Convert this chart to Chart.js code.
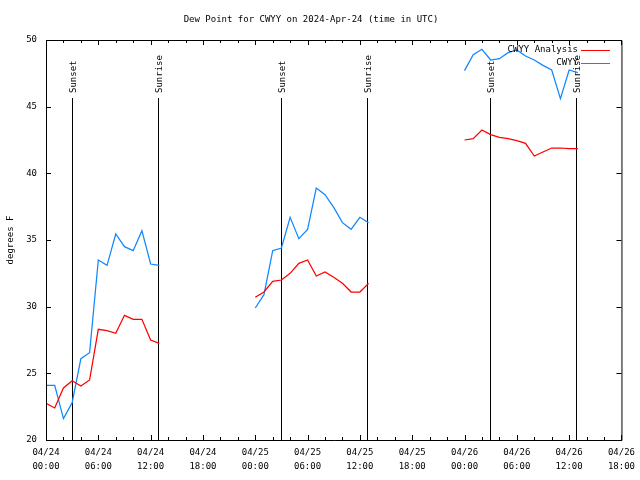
<!DOCTYPE html>
<html>
<head>
<meta charset="utf-8">
<script src="https://cdn.jsdelivr.net/npm/chart.js@4"></script>
<style>
  html, body { margin: 0; padding: 0; background: #fff; }
  #wrap { width: 640px; height: 480px; }
</style>
</head>
<body>
<div id="wrap"><canvas id="dewChart" width="640" height="480"></canvas></div>
<script>
// horas desde 04/24 00:00 UTC
const horas = [0,1,2,3,4,5,6,7,8,9,10,11,12,13,
               24,25,26,27,28,29,30,31,32,33,34,35,36,37,
               48,49,50,51,52,53,54,55,56,57,58,59,60,61];

const analisis = [22.75,22.4,23.9,24.45,24.05,24.5,28.3,28.2,28.0,29.35,29.05,29.05,27.5,27.25,
                  30.7,31.1,31.9,32.0,32.5,33.25,33.5,32.3,32.6,32.2,31.75,31.1,31.1,31.75,
                  42.5,42.6,43.25,42.9,42.7,42.6,42.45,42.25,41.3,41.6,41.9,41.9,41.85,41.85];

const cwyy = [24.1,24.1,21.6,22.8,26.1,26.55,33.5,33.1,35.45,34.5,34.2,35.7,33.2,33.1,
              29.9,30.9,34.2,34.4,36.7,35.1,35.8,38.9,38.4,37.45,36.3,35.8,36.7,36.3,
              47.7,48.9,49.3,48.5,48.6,49.05,49.25,48.8,48.5,48.1,47.75,45.6,47.75,47.55];

// etiquetas del eje x (cada 6 horas)
const fechas = ['04/24','04/24','04/24','04/24','04/25','04/25','04/25','04/25','04/26','04/26','04/26','04/26'];
const tiempos = ['00:00','06:00','12:00','18:00','00:00','06:00','12:00','18:00','00:00','06:00','12:00','18:00'];

// salida / puesta del sol
const solHoras = [3.0, 12.85, 26.95, 36.8, 50.9, 60.75];
const solNombres = ['Sunset','Sunrise','Sunset','Sunrise','Sunset','Sunrise'];

const fuente = "'DejaVu Sans Mono', 'Liberation Mono', monospace";

// Líneas del sol, marco, marcas y leyenda
const marcoPlugin = {
    id: 'marco',
    beforeDatasetsDraw(chart) {
        const ctx = chart.ctx;
        const area = chart.chartArea;
        const x = chart.scales.x;
        ctx.save();
        ctx.strokeStyle = '#000';
        ctx.lineWidth = 1;
        ctx.fillStyle = '#000';
        ctx.font = '9px ' + fuente;
        solHoras.forEach((h, i) => {
            const px = Math.round(x.getPixelForValue(h)) + 0.5;
            ctx.beginPath();
            ctx.moveTo(px, 98);
            ctx.lineTo(px, area.bottom);
            ctx.stroke();
            ctx.save();
            ctx.translate(px + 1, 93);
            ctx.rotate(-Math.PI / 2);
            ctx.textAlign = 'left';
            ctx.textBaseline = 'middle';
            ctx.fillText(solNombres[i], 0, 0);
            ctx.restore();
        });
        ctx.restore();
    },
    afterDraw(chart) {
        const ctx = chart.ctx;
        const a = chart.chartArea;
        const x = chart.scales.x;
        const y = chart.scales.y;
        ctx.save();
        ctx.strokeStyle = '#000';
        ctx.lineWidth = 1;
        ctx.beginPath();
        ctx.rect(a.left + 0.5, a.top + 0.5, a.right - a.left, a.bottom - a.top);
        x.ticks.forEach(t => {
            const px = Math.round(x.getPixelForValue(t.value)) + 0.5;
            const len = t.value % 6 === 0 ? 5 : 3;
            ctx.moveTo(px, a.bottom); ctx.lineTo(px, a.bottom - len);
            ctx.moveTo(px, a.top); ctx.lineTo(px, a.top + len);
        });
        y.ticks.forEach(t => {
            const py = Math.round(y.getPixelForValue(t.value)) + 0.5;
            ctx.moveTo(a.left, py); ctx.lineTo(a.left + 5, py);
            ctx.moveTo(a.right, py); ctx.lineTo(a.right - 5, py);
        });
        ctx.stroke();

        // leyenda
        ctx.font = '9px ' + fuente;
        ctx.textAlign = 'right';
        ctx.textBaseline = 'middle';
        chart.data.datasets.forEach((ds, i) => {
            const ly = 50 + i * 12.5;
            ctx.fillStyle = '#000';
            ctx.fillText(ds.label, 578, ly);
            ctx.strokeStyle = ds.borderColor;
            ctx.beginPath();
            ctx.moveTo(581, Math.round(ly) + 0.5);
            ctx.lineTo(610, Math.round(ly) + 0.5);
            ctx.stroke();
        });
        ctx.restore();
    }
};

const ctxDew = document.getElementById('dewChart').getContext('2d');
new Chart(ctxDew, {
    type: 'line',
    data: {
        datasets: [{
            label: 'CWYY Analysis',
            data: horas.map((h, i) => ({ x: h, y: analisis[i] })),
            borderColor: '#ff0000',
            borderWidth: 1.25,
            pointRadius: 0,
            tension: 0,
            spanGaps: 2
        }, {
            label: 'CWYY',
            data: horas.map((h, i) => ({ x: h, y: cwyy[i] })),
            borderColor: '#0f87ff',
            borderWidth: 1.25,
            pointRadius: 0,
            tension: 0,
            spanGaps: 2
        }]
    },
    options: {
        responsive: false,
        animation: false,
        layout: { padding: { left: 0, right: 18, top: 0, bottom: 0 } },
        plugins: {
            legend: { display: false },
            tooltip: { enabled: false },
            title: {
                display: true,
                text: 'Dew Point for CWYY on 2024-Apr-24 (time in UTC)',
                color: '#000',
                font: { family: fuente, size: 9, weight: 'normal', lineHeight: 1 },
                padding: { top: 15, bottom: 16 }
            }
        },
        scales: {
            x: {
                type: 'linear',
                min: 0,
                max: 66,
                grid: { display: false, drawTicks: false },
                border: { display: false },
                afterFit(scale) { scale.height = 40; },
                ticks: {
                    stepSize: 2,
                    autoSkip: false,
                    maxRotation: 0,
                    padding: 5,
                    color: '#000',
                    font: { family: fuente, size: 9, lineHeight: 1.6 },
                    callback: v => v % 6 === 0 ? [fechas[v / 6], tiempos[v / 6]] : ''
                }
            },
            y: {
                min: 20,
                max: 50,
                grid: { display: false, drawTicks: false },
                border: { display: false },
                afterFit(scale) { scale.width = 46; },
                ticks: {
                    stepSize: 5,
                    padding: 9,
                    color: '#000',
                    font: { family: fuente, size: 9 }
                },
                title: {
                    display: true,
                    text: 'degrees F',
                    color: '#000',
                    font: { family: fuente, size: 9 },
                    padding: { top: 5, bottom: 0 }
                }
            }
        }
    },
    plugins: [marcoPlugin]
});
</script>
</body>
</html>
